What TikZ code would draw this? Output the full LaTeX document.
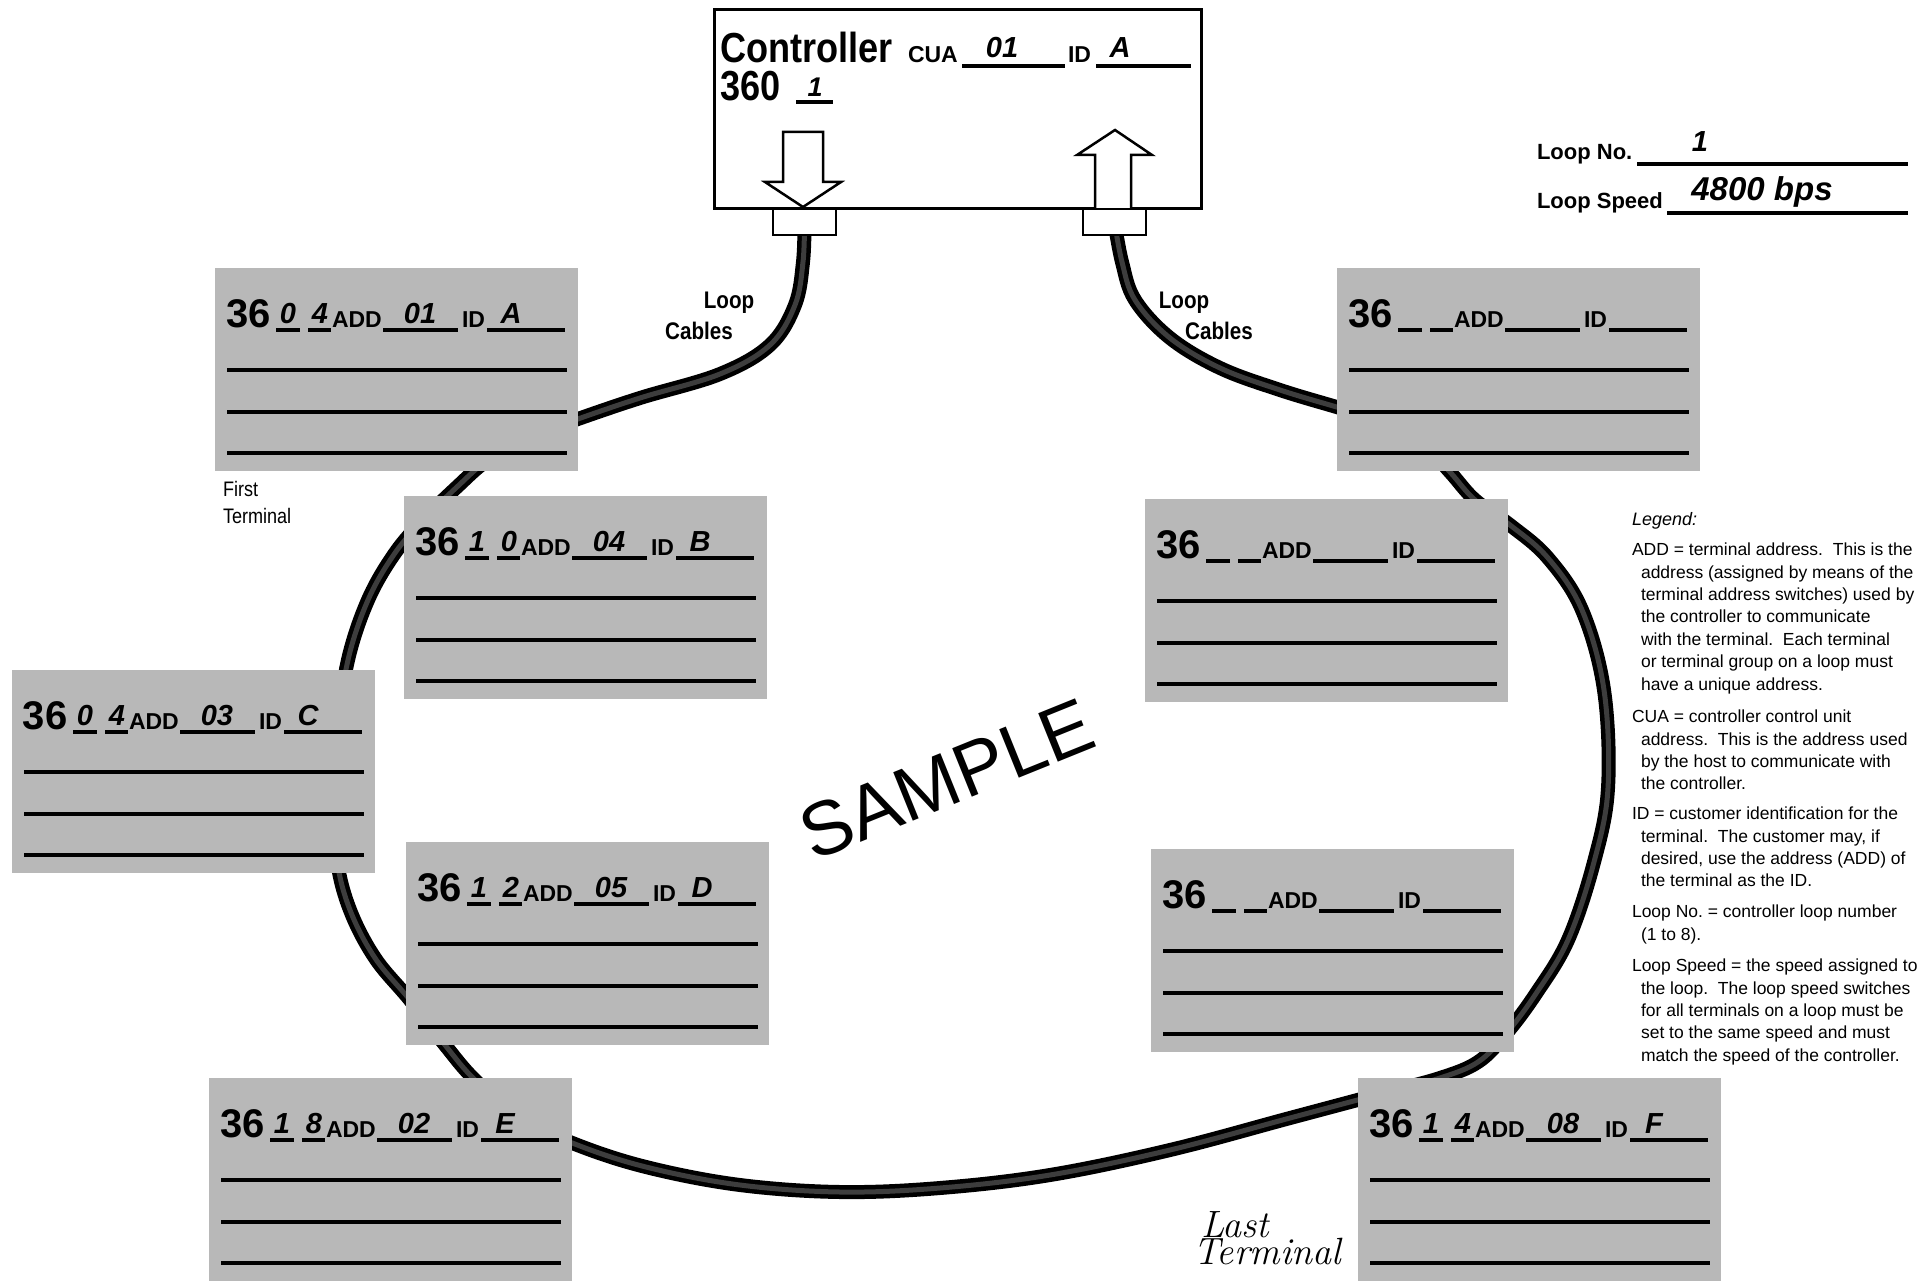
\documentclass[tikz,border=0pt]{standalone}
\usepackage{fontspec}
\newfontfamily\sans{Liberation Sans}
\newfontfamily\sanscond[FakeStretch=0.86]{Liberation Sans}
\usetikzlibrary{calc}
\pgfdeclarelayer{bg}
\pgfsetlayers{bg,main}
\frenchspacing
\definecolor{boxgray}{gray}{0.72}
\definecolor{cablemid}{gray}{0.24}
\tikzset{
  txt/.style={inner sep=0pt, outer sep=0pt, anchor=base west},
  ctxt/.style={inner sep=0pt, outer sep=0pt, anchor=base},
  termbg/.style={fill=boxgray, draw=none, minimum width=363pt, minimum height=203pt, inner sep=0pt, outer sep=0pt, anchor=north west},
  rule/.style={line width=3.2pt},
  hw/.style={inner sep=0pt, outer sep=0pt, anchor=base, font=\sans\bfseries\itshape\fontsize{29}{29}\selectfont},
  lblbig/.style={txt, font=\sans\bfseries\fontsize{40}{40}\selectfont},
  lblsm/.style={txt, font=\sans\bfseries\fontsize{23}{23}\selectfont},
  cablestyle/.style={line width=5pt, cablemid, line cap=round, line join=round,
     preaction={draw=black, line width=14pt, line cap=round, line join=round}},
  legpar/.style={inner sep=0pt, outer sep=0pt, anchor=north west, align=left,
     font=\sans\fontsize{17.5}{22.4}\selectfont},
  plugbox/.style={draw, line width=2.5pt, fill=white, minimum width=63pt, minimum height=26pt, inner sep=0pt, outer sep=0pt, anchor=north west},
}
\newcommand\termbox[7]{%
  \begin{scope}[shift={(#2,#3)}]
    \node[termbg] (#1) at (0,0) {};
    \node[lblbig] (#1-n) at (11,59) {36};
    \draw[rule] (61,62) -- (85,62);
    \draw[rule] (93,62) -- (116,62);
    \node[lblsm] (#1-add) at (117,59) {ADD};
    \draw[rule] (168,62) -- (243,62);
    \node[lblsm] (#1-id) at (247,59) {ID};
    \draw[rule] (272,62) -- (350,62);
    \draw[rule] (12,102) -- (352,102);
    \draw[rule] (12,144) -- (352,144);
    \draw[rule] (12,185) -- (352,185);
    \node[hw] (#1-s1) at (73,55) {#4};
    \node[hw] (#1-s2) at (105,55) {#5};
    \node[hw] (#1-av) at (205,55) {#6};
    \node[hw] (#1-iv) at (296,55) {#7};
  \end{scope}}
\begin{document}
\begin{tikzpicture}[x=1pt,y=-1pt]
\useasboundingbox (0,0) rectangle (1930,1284);
\begin{pgfonlayer}{bg}
\fill[white] (0,0) rectangle (1930,1284);
\end{pgfonlayer}

% controller
\node[draw, line width=3pt, minimum width=487pt, minimum height=199pt, inner sep=0pt, outer sep=0pt, anchor=north west] (ctrl) at (714,10) {};
\node[txt, font=\sanscond\bfseries\fontsize{42}{42}\selectfont] (ctitle) at (720,63) {Controller};
\node[txt, font=\sans\bfseries\fontsize{23}{23}\selectfont] (ccua) at (908,63) {CUA};
\draw[rule] (962,66) -- (1065,66);
\node[hw, font=\sans\bfseries\itshape\fontsize{29}{29}\selectfont] (ccuav) at (1002,58) {01};
\node[txt, font=\sans\bfseries\fontsize{23}{23}\selectfont] (cid) at (1068,63) {ID};
\draw[rule] (1096,66) -- (1191,66);
\node[hw, font=\sans\bfseries\itshape\fontsize{29}{29}\selectfont] (cidv) at (1120,58) {A};
\node[txt, font=\sanscond\bfseries\fontsize{42}{42}\selectfont] (c360) at (720,101) {360};
\draw[rule] (796,102) -- (833,102);
\node[hw, font=\sans\bfseries\itshape\fontsize{27}{27}\selectfont] (c360v) at (815,97) {1};

% hollow arrows
\draw[line width=2.5pt, fill=white, line join=miter] (783,132) -- (823,132) -- (823,182) -- (841,182) -- (803,207) -- (765,182) -- (783,182) -- cycle;
\draw[line width=2.5pt, fill=white, line join=miter] (1095,208) -- (1095,155) -- (1077,155) -- (1115,130) -- (1152,155) -- (1131,155) -- (1131,208);

% plugs
\node[plugbox] (plugL) at (773,209) {};
\node[plugbox] (plugR) at (1083,209) {};

% loop info
\node[txt, font=\sans\bfseries\fontsize{22}{22}\selectfont] (loopno) at (1537,160) {Loop No.};
\draw[rule] (1637,164) -- (1908,164);
\node[hw, font=\sans\bfseries\itshape\fontsize{29}{29}\selectfont] (loopnov) at (1700,152) {1};
\node[txt, font=\sans\bfseries\fontsize{22}{22}\selectfont] (loopsp) at (1537,209) {Loop Speed};
\draw[rule] (1667,213) -- (1908,213);
\node[hw, font=\sans\bfseries\itshape\fontsize{33}{33}\selectfont] (loopspv) at (1762,201) {4800 bps};

% cable labels
\node[ctxt, font=\sanscond\bfseries\fontsize{24}{24}\selectfont] (lcl1) at (729,308) {Loop};
\node[ctxt, font=\sanscond\bfseries\fontsize{24}{24}\selectfont] (lcl2) at (699,339) {Cables};
\node[ctxt, font=\sanscond\bfseries\fontsize{24}{24}\selectfont] (rcl1) at (1184,308) {Loop};
\node[ctxt, font=\sanscond\bfseries\fontsize{24}{24}\selectfont] (rcl2) at (1219,339) {Cables};

% terminals
\termbox{tA}{215}{268}{0}{4}{01}{A}
\termbox{tB}{404}{496}{1}{0}{04}{B}
\termbox{tC}{12}{670}{0}{4}{03}{C}
\termbox{tD}{406}{842}{1}{2}{05}{D}
\termbox{tE}{209}{1078}{1}{8}{02}{E}
\termbox{tF}{1358}{1078}{1}{4}{08}{F}
\termbox{tG}{1337}{268}{}{}{}{}
\termbox{tH}{1145}{499}{}{}{}{}
\termbox{tI}{1151}{849}{}{}{}{}

% labels
\node[txt, font=\sanscond\fontsize{21}{21}\selectfont] (first1) at (223,496) {First};
\node[txt, font=\sanscond\fontsize{21}{21}\selectfont] (first2) at (223,523) {Terminal};
\node[ctxt, font=\itshape\fontsize{38}{38}\selectfont] (last1) at (1235,1237) {Last};
\node[ctxt, font=\itshape\fontsize{38}{38}\selectfont] (last2) at (1267,1264) {Terminal};

\node[inner sep=0pt, rotate=22, font=\sans\fontsize{76}{76}\selectfont] (sample) at (947,779) {SAMPLE};

% legend
\node[txt, font=\sans\itshape\fontsize{18}{18}\selectfont] (leg) at (1632,525) {Legend:};
\node[legpar] (legadd) at (1632,543) {ADD = terminal address.\ \ This is the\\
\hspace*{9pt}address (assigned by means of the\\
\hspace*{9pt}terminal address switches) used by\\
\hspace*{9pt}the controller to communicate\\
\hspace*{9pt}with the terminal.\ \ Each terminal\\
\hspace*{9pt}or terminal group on a loop must\\
\hspace*{9pt}have a unique address.};
\node[legpar] (legcua) at (1632,710) {CUA = controller control unit\\
\hspace*{9pt}address.\ \ This is the address used\\
\hspace*{9pt}by the host to communicate with\\
\hspace*{9pt}the controller.};
\node[legpar] (legid) at (1632,807) {ID = customer identification for the\\
\hspace*{9pt}terminal.\ \ The customer may, if\\
\hspace*{9pt}desired, use the address (ADD) of\\
\hspace*{9pt}the terminal as the ID.};
\node[legpar] (legno) at (1632,905) {Loop No. = controller loop number\\
\hspace*{9pt}(1 to 8).};
\node[legpar] (legsp) at (1632,959) {Loop Speed = the speed assigned to\\
\hspace*{9pt}the loop.\ \ The loop speed switches\\
\hspace*{9pt}for all terminals on a loop must be\\
\hspace*{9pt}set to the same speed and must\\
\hspace*{9pt}match the speed of the controller.};

% cable loop
\begin{pgfonlayer}{bg}
\draw[cablestyle] plot[smooth, tension=0.6] coordinates {
 (plugL.center) (803,262) (795,305) (770,345) (720,374) (640,398) (575,420)
 (520,440) (485,462) (458,486) (425,518) (395,553) (368,600) (348,660)
 (338,730) (335,800) (337,860) (350,910) (375,958) (410,1000) (445,1045)
 (475,1080) (520,1118) (580,1146) (650,1168) (740,1185) (840,1192) (940,1188)
 (1050,1175) (1170,1150) (1290,1118) (1380,1094) (1440,1078) (1478,1062)
 (1505,1035) (1535,995) (1568,940) (1594,862) (1608,788) (1604,690)
 (1582,610) (1548,558) (1510,525) (1475,500) (1450,472) (1420,440)
 (1380,420) (1340,408) (1280,390) (1220,368) (1170,338) (1135,300)
 (1122,262) (plugR.center)};
\end{pgfonlayer}
\end{tikzpicture}
\end{document}
